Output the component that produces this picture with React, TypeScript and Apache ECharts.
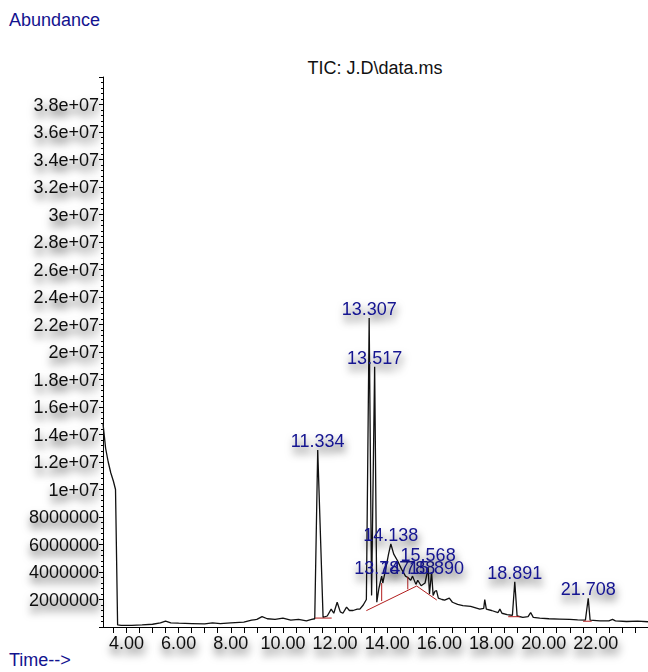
import React, { useEffect, useRef } from "react";
import * as echarts from "echarts";

// Total ion chromatogram trace (time in min, abundance in counts)
const traceTimes = [
  3.1, 3.2, 3.3, 3.4, 3.5, 3.58, 3.66, 3.8, 4.2, 4.6, 5.0, 5.3, 5.5, 5.7, 6.0, 6.5, 7.0, 7.3, 7.6, 8.0,
  8.5, 8.8, 9.0, 9.2, 9.4, 9.7, 10.0, 10.3, 10.6, 10.9, 11.1, 11.22, 11.334, 11.54, 11.7, 11.85, 11.95,
  12.08, 12.2, 12.3, 12.44, 12.55, 12.69, 12.85, 12.95, 13.08, 13.2, 13.307, 13.4, 13.517, 13.6, 13.68,
  13.75, 13.787, 13.83, 13.95, 14.05, 14.138, 14.25, 14.4, 14.55, 14.7, 14.788, 14.9, 14.97, 15.1, 15.17,
  15.3, 15.45, 15.568, 15.62, 15.7, 15.76, 15.83, 15.89, 15.96, 16.1, 16.2, 16.38, 16.5, 16.7, 16.9,
  17.2, 17.55, 17.7, 17.74, 17.8, 18.0, 18.25, 18.32, 18.4, 18.6, 18.8, 18.891, 18.98, 19.2, 19.4, 19.5,
  19.6, 19.85, 20.2, 20.6, 21.0, 21.3, 21.6, 21.708, 21.78, 22.16, 22.5, 22.64, 22.75, 23.18, 23.6, 24.0,
];
const traceAbundance = [
  14.8e6, 13.0e6, 12.0e6, 11.2e6, 10.6e6, 10.0e6, 0.15e6, 0.12e6, 0.12e6, 0.15e6, 0.2e6, 0.3e6, 0.42e6,
  0.3e6, 0.28e6, 0.25e6, 0.22e6, 0.3e6, 0.25e6, 0.3e6, 0.35e6, 0.5e6, 0.55e6, 0.75e6, 0.6e6, 0.55e6,
  0.65e6, 0.5e6, 0.55e6, 0.45e6, 0.55e6, 0.6e6, 12.87e6, 0.7e6, 0.8e6, 1.3e6, 1.0e6, 1.8e6, 1.1e6, 1.0e6,
  1.45e6, 1.2e6, 1.2e6, 1.3e6, 1.3e6, 1.6e6, 2.0e6, 22.47e6, 2.3e6, 18.93e6, 1.8e6, 2.8e6, 3.4e6, 3.7e6,
  3.2e6, 4.3e6, 5.3e6, 6.04e6, 5.3e6, 4.8e6, 4.2e6, 3.7e6, 3.6e6, 3.4e6, 3.7e6, 3.1e6, 3.4e6, 3.0e6,
  3.2e6, 4.29e6, 2.4e6, 4.0e6, 2.3e6, 2.6e6, 2.65e6, 2.1e6, 2.0e6, 1.95e6, 2.1e6, 1.8e6, 1.65e6, 1.55e6,
  1.5e6, 1.3e6, 1.35e6, 2.0e6, 1.3e6, 1.2e6, 1.05e6, 1.3e6, 1.0e6, 0.9e6, 0.85e6, 3.29e6, 0.8e6, 0.7e6,
  0.75e6, 1.05e6, 0.7e6, 0.65e6, 0.6e6, 0.58e6, 0.55e6, 0.52e6, 0.5e6, 2.09e6, 0.5e6, 0.45e6, 0.45e6,
  0.55e6, 0.45e6, 0.4e6, 0.42e6, 0.38e6,
];

// Integrated peaks
const peakTimes = [11.334, 13.307, 13.517, 13.787, 14.138, 14.788, 15.568, 15.89, 18.891, 21.708];
const peakLabels = ["11.334", "13.307", "13.517", "13.787", "14.138", "14.788", "15.568", "15.890", "18.891", "21.708"];
const peakLabelAbundance = [12.87e6, 22.47e6, 18.93e6, 3.67e6, 6.04e6, 3.67e6, 4.6e6, 3.67e6, 3.29e6, 2.09e6];

// Integration baselines and drop lines (red)
const baselineTimes = [
  [11.23, 11.87],
  [13.2, 15.13, 15.9],
  [13.787, 13.787],
  [14.788, 14.788],
  [18.64, 19.09],
  [21.51, 21.84],
];
const baselineValues = [
  [0.65e6, 0.65e6],
  [1.19e6, 2.98e6, 1.96e6],
  [1.89e6, 3.2e6],
  [2.74e6, 3.66e6],
  [0.75e6, 0.75e6],
  [0.42e6, 0.42e6],
];

// Axis tick labels
const xLabelValues = [4, 6, 8, 10, 12, 14, 16, 18, 20, 22];
const xTickValues = [
  3.5, 4, 4.5, 5, 5.5, 6, 6.5, 7, 7.5, 8, 8.5, 9, 9.5, 10, 10.5, 11, 11.5, 12, 12.5, 13, 13.5, 14, 14.5,
  15, 15.5, 16, 16.5, 17, 17.5, 18, 18.5, 19, 19.5, 20, 20.5, 21, 21.5, 22, 22.5, 23, 23.5,
];

const FONT = "'Liberation Sans', Arial, sans-serif";
const BLUE = "#13138f";
const shadow = {
  textShadowColor: "rgba(0,0,0,0.75)",
  textShadowBlur: 8,
  textShadowOffsetX: 1,
  textShadowOffsetY: 6,
};

export default function App() {
  const ref = useRef<HTMLDivElement>(null);
  useEffect(() => {
    if (!ref.current) return;
    const chart = echarts.init(ref.current, undefined, { renderer: "svg" });
    const trace = traceTimes.map((t, i) => [t, traceAbundance[i]]);
    const labelPts = peakTimes.map((t, i) => ({ value: [t, peakLabelAbundance[i]], name: peakLabels[i] }));
    const baseSeries = baselineTimes.map((ts, k) => ({
      type: "line",
      data: ts.map((t, i) => [t, baselineValues[k][i]]),
      showSymbol: false,
      lineStyle: { color: "#b21e1e", width: 1 },
      z: 3,
      silent: true,
    }));
    chart.setOption({
      animation: false,
      backgroundColor: "#ffffff",
      grid: { left: 103, right: 0, top: 77, bottom: 45 },
      xAxis: {
        type: "value",
        min: 3.1,
        max: 24,
        axisLine: { show: true, lineStyle: { color: "#000", width: 1 } },
        axisTick: { show: true, customValues: xTickValues, length: 6, lineStyle: { color: "#000" } },
        axisLabel: {
          customValues: xLabelValues,
          formatter: (v: number) => v.toFixed(2),
          color: "#111",
          fontFamily: FONT,
          fontSize: 18,
          margin: 7,
          ...shadow,
        },
        splitLine: { show: false },
      },
      yAxis: {
        type: "value",
        min: 0,
        max: 4e7,
        interval: 2e6,
        axisLine: { show: true, lineStyle: { color: "#000", width: 1 } },
        axisTick: { show: true, length: 4, lineStyle: { color: "#000" } },
        minorTick: { show: true, splitNumber: 5, length: 2, lineStyle: { color: "#000" } },
        axisLabel: {
          showMinLabel: false,
          showMaxLabel: false,
          formatter: (v: number) => (v >= 1e7 ? `${+(v / 1e7).toFixed(2)}e+07` : `${v}`),
          color: "#111",
          fontFamily: FONT,
          fontSize: 18,
          margin: 4,
          ...shadow,
        },
        splitLine: { show: false },
      },
      graphic: [
        {
          type: "text",
          x: 375,
          y: 68,
          style: {
            text: "TIC: J.D\\data.ms",
            font: `18px ${FONT}`,
            fill: "#111",
            align: "center",
            verticalAlign: "middle",
          },
        },
        {
          type: "text",
          x: 9,
          y: 20,
          style: { text: "Abundance", font: `18px ${FONT}`, fill: BLUE, align: "left", verticalAlign: "middle" },
        },
        {
          type: "text",
          x: 9,
          y: 660,
          style: { text: "Time-->", font: `18px ${FONT}`, fill: BLUE, align: "left", verticalAlign: "middle" },
        },
      ],
      series: [
        {
          type: "line",
          data: trace,
          showSymbol: false,
          lineStyle: { color: "#111", width: 1.3 },
          z: 2,
          silent: true,
        },
        ...baseSeries,
        {
          type: "scatter",
          data: labelPts,
          symbolSize: 0,
          z: 5,
          silent: true,
          itemStyle: { opacity: 1 },
          label: {
            show: true,
            position: "top",
            distance: 0,
            opacity: 1,
            formatter: (p: any) => p.name,
            color: BLUE,
            fontFamily: FONT,
            fontSize: 18,
            ...shadow,
          },
          labelLayout: { hideOverlap: false },
        },
      ],
    });
    return () => chart.dispose();
  }, []);
  return <div ref={ref} style={{ width: 648, height: 672, position: "absolute", left: 0, top: 0 }} />;
}
